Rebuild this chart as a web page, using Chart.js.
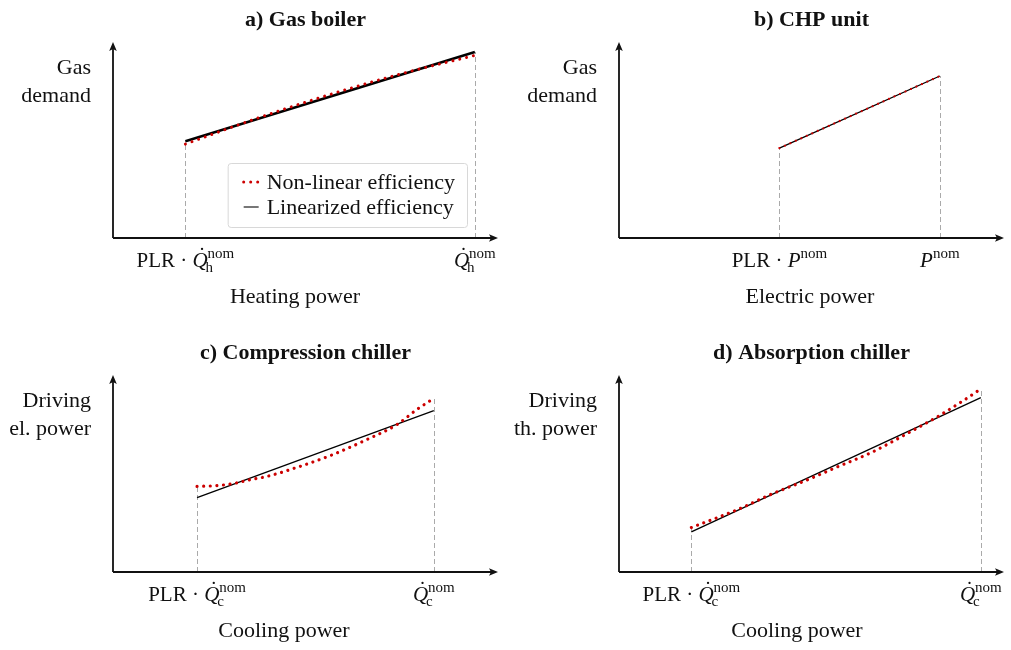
<!DOCTYPE html>
<html lang="en">
<head>
<meta charset="UTF-8">
<title>Part-load efficiency models</title>
<script src="https://cdn.jsdelivr.net/npm/chart.js@4.4.0/dist/chart.umd.min.js"></script>
<style>
    body { margin: 0; background: #fff; }
    .figure { position: relative; width: 1011px; height: 650px; }
    .figure canvas { position: absolute; }
    #boiler { left: 0; top: 0; }
    #chp { left: 505px; top: 0; }
    #compression { left: 0; top: 320px; }
    #absorption { left: 505px; top: 320px; }
</style>
</head>
<body>
<div class="figure">
    <canvas id="boiler" width="505" height="320"></canvas>
    <canvas id="chp" width="506" height="320"></canvas>
    <canvas id="compression" width="505" height="330"></canvas>
    <canvas id="absorption" width="506" height="330"></canvas>
</div>

<script>
// x: part load relative to nominal, y: input relative to nominal input
const boilerLinX = [0.2, 1.0];
const boilerLinY = [0.52, 1.0];
const boilerCurveX = [0.2, 0.4, 0.6, 0.8, 1.0];
const boilerCurveY = [0.505, 0.645, 0.772, 0.885, 0.982];

const chpLinX = [0.5, 1.0];
const chpLinY = [0.555, 1.0];
const chpCurveX = [0.5, 1.0];
const chpCurveY = [0.555, 1.0];

const compLinX = [0.262, 1.0];
const compLinY = [0.46, 1.0];
const compCurveX = [0.262, 0.324, 0.374, 0.427, 0.48, 0.583, 0.685, 0.791, 0.885, 0.947, 1.0];
const compCurveY = [0.53, 0.535, 0.547, 0.571, 0.592, 0.654, 0.727, 0.82, 0.913, 1.006, 1.075];

const absLinX = [0.2, 1.0];
const absLinY = [0.23, 1.0];
const absCurveX = [0.2, 0.33, 0.422, 0.514, 0.606, 0.698, 0.79, 0.882, 0.956, 1.0];
const absCurveY = [0.255, 0.36, 0.447, 0.523, 0.605, 0.686, 0.787, 0.893, 0.989, 1.05];

const panelTitles = ['a) Gas boiler', 'b) CHP unit', 'c) Compression chiller', 'd) Absorption chiller'];
const yAxisLabels = [['Gas', 'demand'], ['Gas', 'demand'], ['Driving', 'el. power'], ['Driving', 'th. power']];
const xAxisLabels = ['Heating power', 'Electric power', 'Cooling power', 'Cooling power'];
const seriesLabels = ['Non-linear efficiency', 'Linearized efficiency'];

// tick labels: upright prefix, italic symbol (optionally dotted), subscript, superscript
const minTicks = [
    { pre: 'PLR · ', sym: 'Q', dot: true, sub: 'h', sup: 'nom' },
    { pre: 'PLR · ', sym: 'P', dot: false, sub: '', sup: 'nom' },
    { pre: 'PLR · ', sym: 'Q', dot: true, sub: 'c', sup: 'nom' },
    { pre: 'PLR · ', sym: 'Q', dot: true, sub: 'c', sup: 'nom' }
];
const maxTicks = [
    { pre: '', sym: 'Q', dot: true, sub: 'h', sup: 'nom' },
    { pre: '', sym: 'P', dot: false, sub: '', sup: 'nom' },
    { pre: '', sym: 'Q', dot: true, sub: 'c', sup: 'nom' },
    { pre: '', sym: 'Q', dot: true, sub: 'c', sup: 'nom' }
];

const SERIF = '"Liberation Serif", "DejaVu Serif", serif';
const INK = '#111';
const RED = '#cc0000';

function pts(xs, ys) {
    return xs.map((x, i) => ({ x: x, y: ys[i] }));
}

function drawMath(ctx, cx, y, t) {
    const big = '21px ' + SERIF, bigIt = 'italic 21px ' + SERIF, small = '15px ' + SERIF;
    ctx.font = big;
    const wPre = ctx.measureText(t.pre).width;
    ctx.font = bigIt;
    const wSym = ctx.measureText(t.sym).width;
    ctx.font = small;
    const wScript = Math.max(ctx.measureText(t.sup).width, ctx.measureText(t.sub).width);
    let x = cx - (wPre + wSym + wScript) / 2;
    ctx.textAlign = 'left';
    ctx.textBaseline = 'alphabetic';
    ctx.font = big;
    ctx.fillText(t.pre, x, y);
    x += wPre;
    ctx.font = bigIt;
    ctx.fillText(t.sym, x, y);
    if (t.dot) {
        ctx.font = big;
        ctx.textAlign = 'center';
        ctx.fillText('˙', x + wSym / 2 + 2, y - 5);
        ctx.textAlign = 'left';
    }
    x += wSym;
    ctx.font = small;
    ctx.fillText(t.sup, x, y - 9);
    ctx.fillText(t.sub, x - 2, y + 5);
}

function arrowHead(ctx, x, y, dir) {
    // dir: 'right' or 'up'
    ctx.beginPath();
    if (dir === 'right') {
        ctx.moveTo(x, y);
        ctx.lineTo(x - 9, y - 3.8);
        ctx.lineTo(x - 7, y);
        ctx.lineTo(x - 9, y + 3.8);
    } else {
        ctx.moveTo(x, y);
        ctx.lineTo(x - 3.8, y + 9);
        ctx.lineTo(x, y + 7);
        ctx.lineTo(x + 3.8, y + 9);
    }
    ctx.closePath();
    ctx.fill();
}

const sketchAxes = {
    id: 'sketchAxes',
    beforeDatasetsDraw(chart, args, o) {
        const ctx = chart.ctx, area = chart.chartArea;
        const xs = chart.scales.x, ys = chart.scales.y;
        ctx.save();
        ctx.strokeStyle = '#aaa';
        ctx.lineWidth = 1;
        ctx.setLineDash([5, 3]);
        o.guides.forEach(gx => {
            let top = 0;
            chart.data.datasets.forEach(ds => ds.data.forEach(p => {
                if (Math.abs(p.x - gx) < 1e-9) top = Math.max(top, p.y);
            }));
            const px = Math.round(xs.getPixelForValue(gx)) + 0.5;
            ctx.beginPath();
            ctx.moveTo(px, area.bottom);
            ctx.lineTo(px, ys.getPixelForValue(top));
            ctx.stroke();
        });
        ctx.restore();
    },
    afterDraw(chart, args, o) {
        const ctx = chart.ctx, area = chart.chartArea;
        const xs = chart.scales.x;
        ctx.save();
        ctx.fillStyle = INK;
        ctx.strokeStyle = INK;
        ctx.lineWidth = 1.8;

        // axes with arrow tips
        ctx.beginPath();
        ctx.moveTo(area.left, area.bottom);
        ctx.lineTo(area.right - 6, area.bottom);
        ctx.moveTo(area.left, area.bottom);
        ctx.lineTo(area.left, area.top + 6);
        ctx.stroke();
        arrowHead(ctx, area.right, area.bottom, 'right');
        arrowHead(ctx, area.left, area.top, 'up');

        // panel title
        ctx.font = 'bold 22px ' + SERIF;
        ctx.textAlign = 'center';
        ctx.textBaseline = 'alphabetic';
        ctx.fillText(o.title, (area.left + area.right) / 2, area.top - 16);

        // y label, two right-aligned lines
        ctx.font = '22px ' + SERIF;
        ctx.textAlign = 'right';
        ctx.fillText(o.yLabel[0], area.left - 22, area.top + 32);
        ctx.fillText(o.yLabel[1], area.left - 22, area.top + 60);

        // x label
        ctx.textAlign = 'center';
        ctx.fillText(o.xLabel, o.xLabelCenter, area.bottom + 65);

        // tick labels at the guide positions
        drawMath(ctx, xs.getPixelForValue(o.guides[0]), area.bottom + 29, o.ticks[0]);
        drawMath(ctx, xs.getPixelForValue(o.guides[1]), area.bottom + 29, o.ticks[1]);

        if (o.legend) {
            ctx.font = '22px ' + SERIF;
            const wText = Math.max(...chart.data.datasets.map(d => ctx.measureText(d.label).width));
            const w = 39 + wText + 12, h = 64;
            const right = area.right - 31, bottom = area.bottom - 11;
            const left = right - w, top = bottom - h;
            ctx.fillStyle = 'rgba(255,255,255,0.85)';
            ctx.strokeStyle = '#d8d8d8';
            ctx.lineWidth = 1;
            ctx.beginPath();
            ctx.roundRect(left + 0.5, top + 0.5, w, h, 3);
            ctx.fill();
            ctx.stroke();
            chart.data.datasets.forEach((ds, i) => {
                const base = top + 26 + i * 25;
                const sy = base - 7;
                if (ds.borderDash && ds.borderDash.length) {
                    ctx.fillStyle = ds.borderColor;
                    [0, 7, 14].forEach(dx => {
                        ctx.beginPath();
                        ctx.arc(left + 16 + dx, sy, 1.5, 0, Math.PI * 2);
                        ctx.fill();
                    });
                } else {
                    ctx.strokeStyle = '#555';
                    ctx.lineWidth = 1.6;
                    ctx.beginPath();
                    ctx.moveTo(left + 16, sy);
                    ctx.lineTo(left + 31, sy);
                    ctx.stroke();
                }
                ctx.fillStyle = INK;
                ctx.textAlign = 'left';
                ctx.fillText(ds.label, left + 39, base);
            });
        }
        ctx.restore();
    }
};

function makePanel(id, idx, curve, linear, box, opts) {
    new Chart(document.getElementById(id), {
        type: 'line',
        data: {
            datasets: [{
                label: seriesLabels[0],
                data: curve,
                borderColor: RED,
                borderWidth: opts.dotSize,
                borderDash: [0.01, opts.dotGap],
                borderCapStyle: 'round',
                cubicInterpolationMode: 'monotone',
                pointRadius: 0,
                fill: false
            }, {
                label: seriesLabels[1],
                data: linear,
                borderColor: '#000',
                borderWidth: opts.lineWidth,
                pointRadius: 0,
                fill: false
            }]
        },
        options: {
            responsive: false,
            animation: false,
            devicePixelRatio: 1,
            layout: { padding: box },
            scales: {
                x: { type: 'linear', display: false, min: 0, max: opts.xMax },
                y: { display: false, min: 0, max: opts.yMax }
            },
            plugins: {
                legend: { display: false },
                tooltip: { enabled: false },
                sketchAxes: {
                    title: panelTitles[idx],
                    yLabel: yAxisLabels[idx],
                    xLabel: xAxisLabels[idx],
                    xLabelCenter: opts.xLabelCenter,
                    ticks: [minTicks[idx], maxTicks[idx]],
                    guides: [linear[0].x, linear[linear.length - 1].x],
                    legend: !!opts.legend
                }
            }
        },
        plugins: [sketchAxes]
    });
}

makePanel('boiler', 0, pts(boilerCurveX, boilerCurveY), pts(boilerLinX, boilerLinY),
    { left: 113, right: 7, top: 42, bottom: 82 },
    { xMax: 1.064, yMax: 1.054, lineWidth: 2.5, dotSize: 3, dotGap: 7, xLabelCenter: 295, legend: true });
makePanel('chp', 1, pts(chpCurveX, chpCurveY), pts(chpLinX, chpLinY),
    { left: 114, right: 7, top: 42, bottom: 82 },
    { xMax: 1.2, yMax: 1.21, lineWidth: 1.3, dotSize: 2.2, dotGap: 6, xLabelCenter: 305 });
makePanel('compression', 2, pts(compCurveX, compCurveY), pts(compLinX, compLinY),
    { left: 113, right: 7, top: 55, bottom: 78 },
    { xMax: 1.2, yMax: 1.22, lineWidth: 1.3, dotSize: 3.2, dotGap: 6.6, xLabelCenter: 284 });
makePanel('absorption', 3, pts(absCurveX, absCurveY), pts(absLinX, absLinY),
    { left: 114, right: 7, top: 55, bottom: 78 },
    { xMax: 1.064, yMax: 1.13, lineWidth: 1.3, dotSize: 3.2, dotGap: 6.6, xLabelCenter: 292 });
</script>
</body>
</html>
